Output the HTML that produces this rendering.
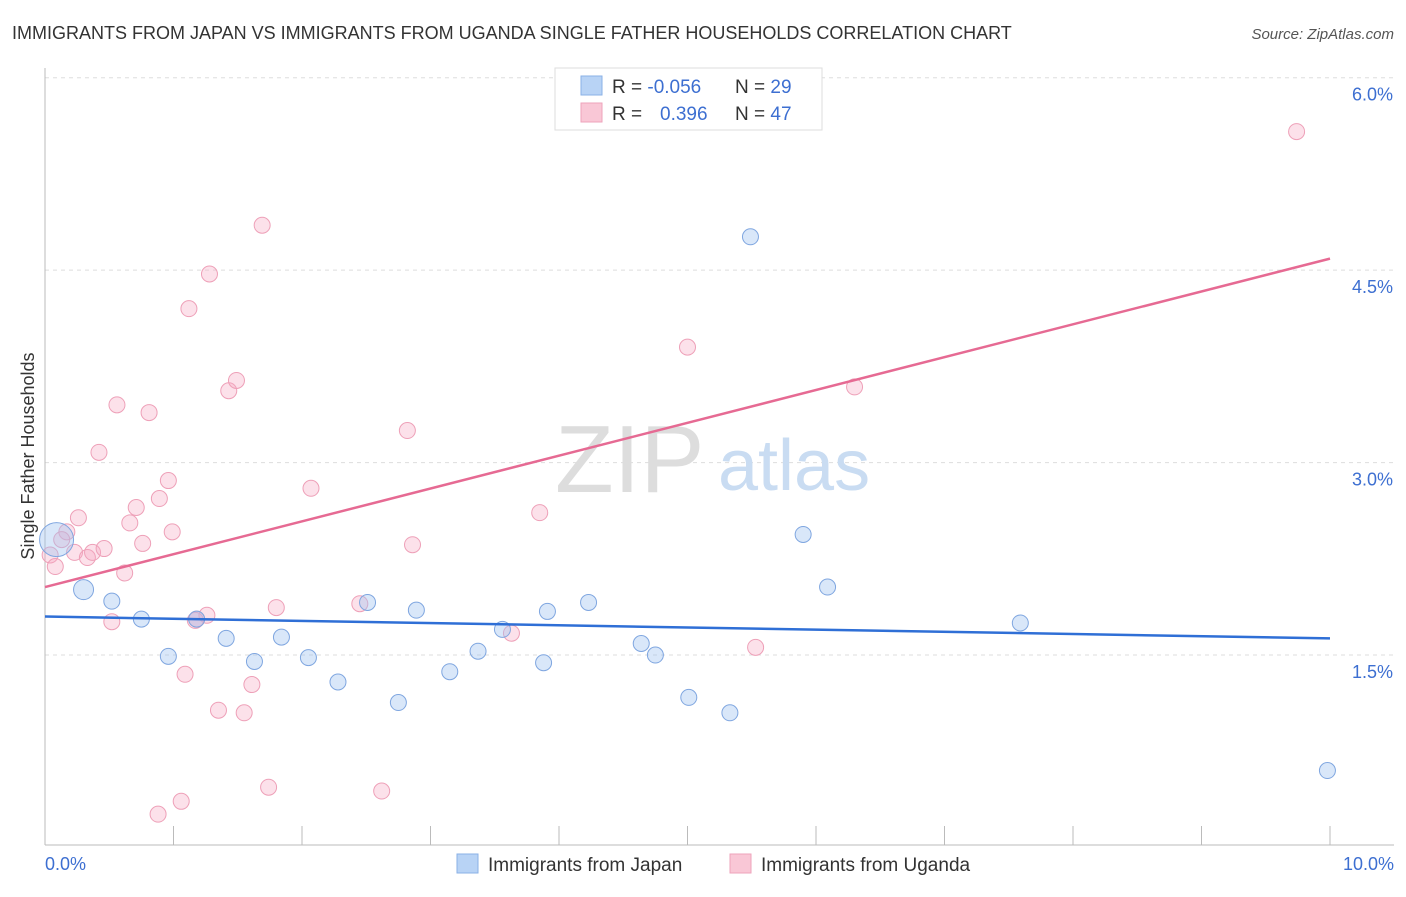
<!DOCTYPE html>
<html><head><meta charset="utf-8"><style>
body{margin:0;background:#fff;font-family:"Liberation Sans",sans-serif;}
svg text{font-family:"Liberation Sans",sans-serif;}
</style></head><body>
<svg id="chart" width="1406" height="892">
<text x="12" y="39" font-size="18" fill="#333">IMMIGRANTS FROM JAPAN VS IMMIGRANTS FROM UGANDA SINGLE FATHER HOUSEHOLDS CORRELATION CHART</text>
<text x="1394" y="39" font-size="15" fill="#555" font-style="italic" text-anchor="end">Source: ZipAtlas.com</text>
<g id="grid"></g>
<text x="555" y="492" font-size="96" fill="#ddd" font-family="Liberation Serif">ZIP</text>
<text x="718" y="490" font-size="72" fill="#c9dcf2">atlas</text>
<line x1="45" y1="68" x2="45" y2="845" stroke="#bbb"/>
<line x1="45" y1="845" x2="1394" y2="845" stroke="#bbb"/>
<g id="ticks"></g>
<g id="pts"></g>
<g id="lines"></g>
<text transform="translate(34,456) rotate(-90)" font-size="18" fill="#333" text-anchor="middle">Single Father Households</text>
<text x="45" y="870" font-size="18" fill="#3d6fd1">0.0%</text>
<text x="1394" y="870" font-size="18" fill="#3d6fd1" text-anchor="end">10.0%</text>
<g>
<rect x="555" y="68" width="267" height="62" fill="#fff" stroke="#ddd"/>
<rect x="581" y="76" width="21" height="19" fill="#b8d3f5" stroke="#8ab0e6"/>
<rect x="581" y="103" width="21" height="19" fill="#f9c7d6" stroke="#eea3bb"/>
<text x="612" y="93" font-size="19" fill="#333">R = <tspan fill="#3d6fd1">-0.056</tspan></text>
<text x="735" y="93" font-size="19" fill="#333">N = <tspan fill="#3d6fd1">29</tspan></text>
<text x="612" y="120" font-size="19" fill="#333">R = <tspan fill="#3d6fd1" x="660">0.396</tspan></text>
<text x="735" y="120" font-size="19" fill="#333">N = <tspan fill="#3d6fd1">47</tspan></text>
</g>
<g>
<rect x="457" y="854" width="21" height="19" fill="#b8d3f5" stroke="#8ab0e6"/>
<text x="488" y="871" font-size="19" fill="#333">Immigrants from Japan</text>
<rect x="730" y="854" width="21" height="19" fill="#f9c7d6" stroke="#eea3bb"/>
<text x="761" y="871" font-size="19" fill="#333">Immigrants from Uganda</text>
</g>
</svg>
<script>
const yTicks=[1.5,3.0,4.5,6.0];
const yTickLabels=["1.5%","3.0%","4.5%","6.0%"];
const xTicks=[1,2,3,4,5,6,7,8,9,10];
const japanX=[0.09,0.30,0.52,0.75,0.96,1.18,1.41,1.63,1.84,2.05,2.28,2.51,2.75,2.89,3.15,3.37,3.56,3.88,3.91,4.23,4.64,4.75,5.01,5.33,5.49,5.90,6.09,7.59,9.98];
const japanY=[2.40,2.01,1.92,1.78,1.49,1.78,1.63,1.45,1.64,1.48,1.29,1.91,1.13,1.85,1.37,1.53,1.70,1.44,1.84,1.91,1.59,1.50,1.17,1.05,4.76,2.44,2.03,1.75,0.60];
const japanR=[17,10,8,8,8,8,8,8,8,8,8,8,8,8,8,8,8,8,8,8,8,8,8,8,8,8,8,8,8];
const ugandaX=[0.04,0.08,0.17,0.26,0.23,0.33,0.37,0.46,0.42,0.52,0.56,0.62,0.66,0.71,0.76,0.81,0.88,0.89,0.96,0.99,1.06,1.09,1.12,1.18,1.26,1.28,1.35,1.43,1.49,1.55,1.61,1.69,1.74,1.80,2.07,2.45,2.62,2.82,2.86,3.63,3.85,5.00,5.53,6.30,9.74,0.13,1.17];
const ugandaY=[2.28,2.19,2.46,2.57,2.30,2.26,2.30,2.33,3.08,1.76,3.45,2.14,2.53,2.65,2.37,3.39,0.26,2.72,2.86,2.46,0.36,1.35,4.20,1.78,1.81,4.47,1.07,3.56,3.64,1.05,1.27,4.85,0.47,1.87,2.80,1.90,0.44,3.25,2.36,1.67,2.61,3.90,1.56,3.59,5.58,2.40,1.77];
const japanTrend=[1.80,1.63];
const ugandaTrend=[2.03,4.59];
const NS="http://www.w3.org/2000/svg";
const xs=v=>45+v*128.5, ys=v=>847.5-v*128.3;
function mk(t,a,p){const e=document.createElementNS(NS,t);for(const k in a)e.setAttribute(k,a[k]);document.getElementById(p).appendChild(e);return e;}
yTicks.forEach((v,i)=>{
 const l=mk('line',{x1:45,x2:1394,y1:ys(v),y2:ys(v),stroke:'#ddd','stroke-dasharray':'4,4'},'grid');
 
 
 const t=mk('text',{x:1393,y:ys(v)+23,'font-size':18,fill:'#3d6fd1','text-anchor':'end'},'grid');
 t.textContent=yTickLabels[i];
 
 
});
xTicks.forEach(v=>{
 const l=mk('line',{x1:xs(v),x2:xs(v),y1:826,y2:845,stroke:'#bbb'},'ticks');
 
 
});
ugandaX.forEach((v,i)=>{
 const c=mk('circle',{cx:xs(v),cy:ys(ugandaY[i]),r:8,fill:'rgba(246,170,195,0.35)',stroke:'#eea0b8','stroke-width':1},'pts');
 
 
});
japanX.forEach((v,i)=>{
 const c=mk('circle',{cx:xs(v),cy:ys(japanY[i]),r:japanR[i],fill:'rgba(160,195,240,0.4)',stroke:'#7fa6e0','stroke-width':1},'pts');
 
 
});
const bl=mk('line',{x1:xs(0),x2:xs(10),y1:ys(japanTrend[0]),y2:ys(japanTrend[1]),stroke:'#2f6fd6','stroke-width':2.5},'lines');


const pl=mk('line',{x1:xs(0),x2:xs(10),y1:ys(ugandaTrend[0]),y2:ys(ugandaTrend[1]),stroke:'#e66a93','stroke-width':2.5},'lines');


</script>
</body></html>
